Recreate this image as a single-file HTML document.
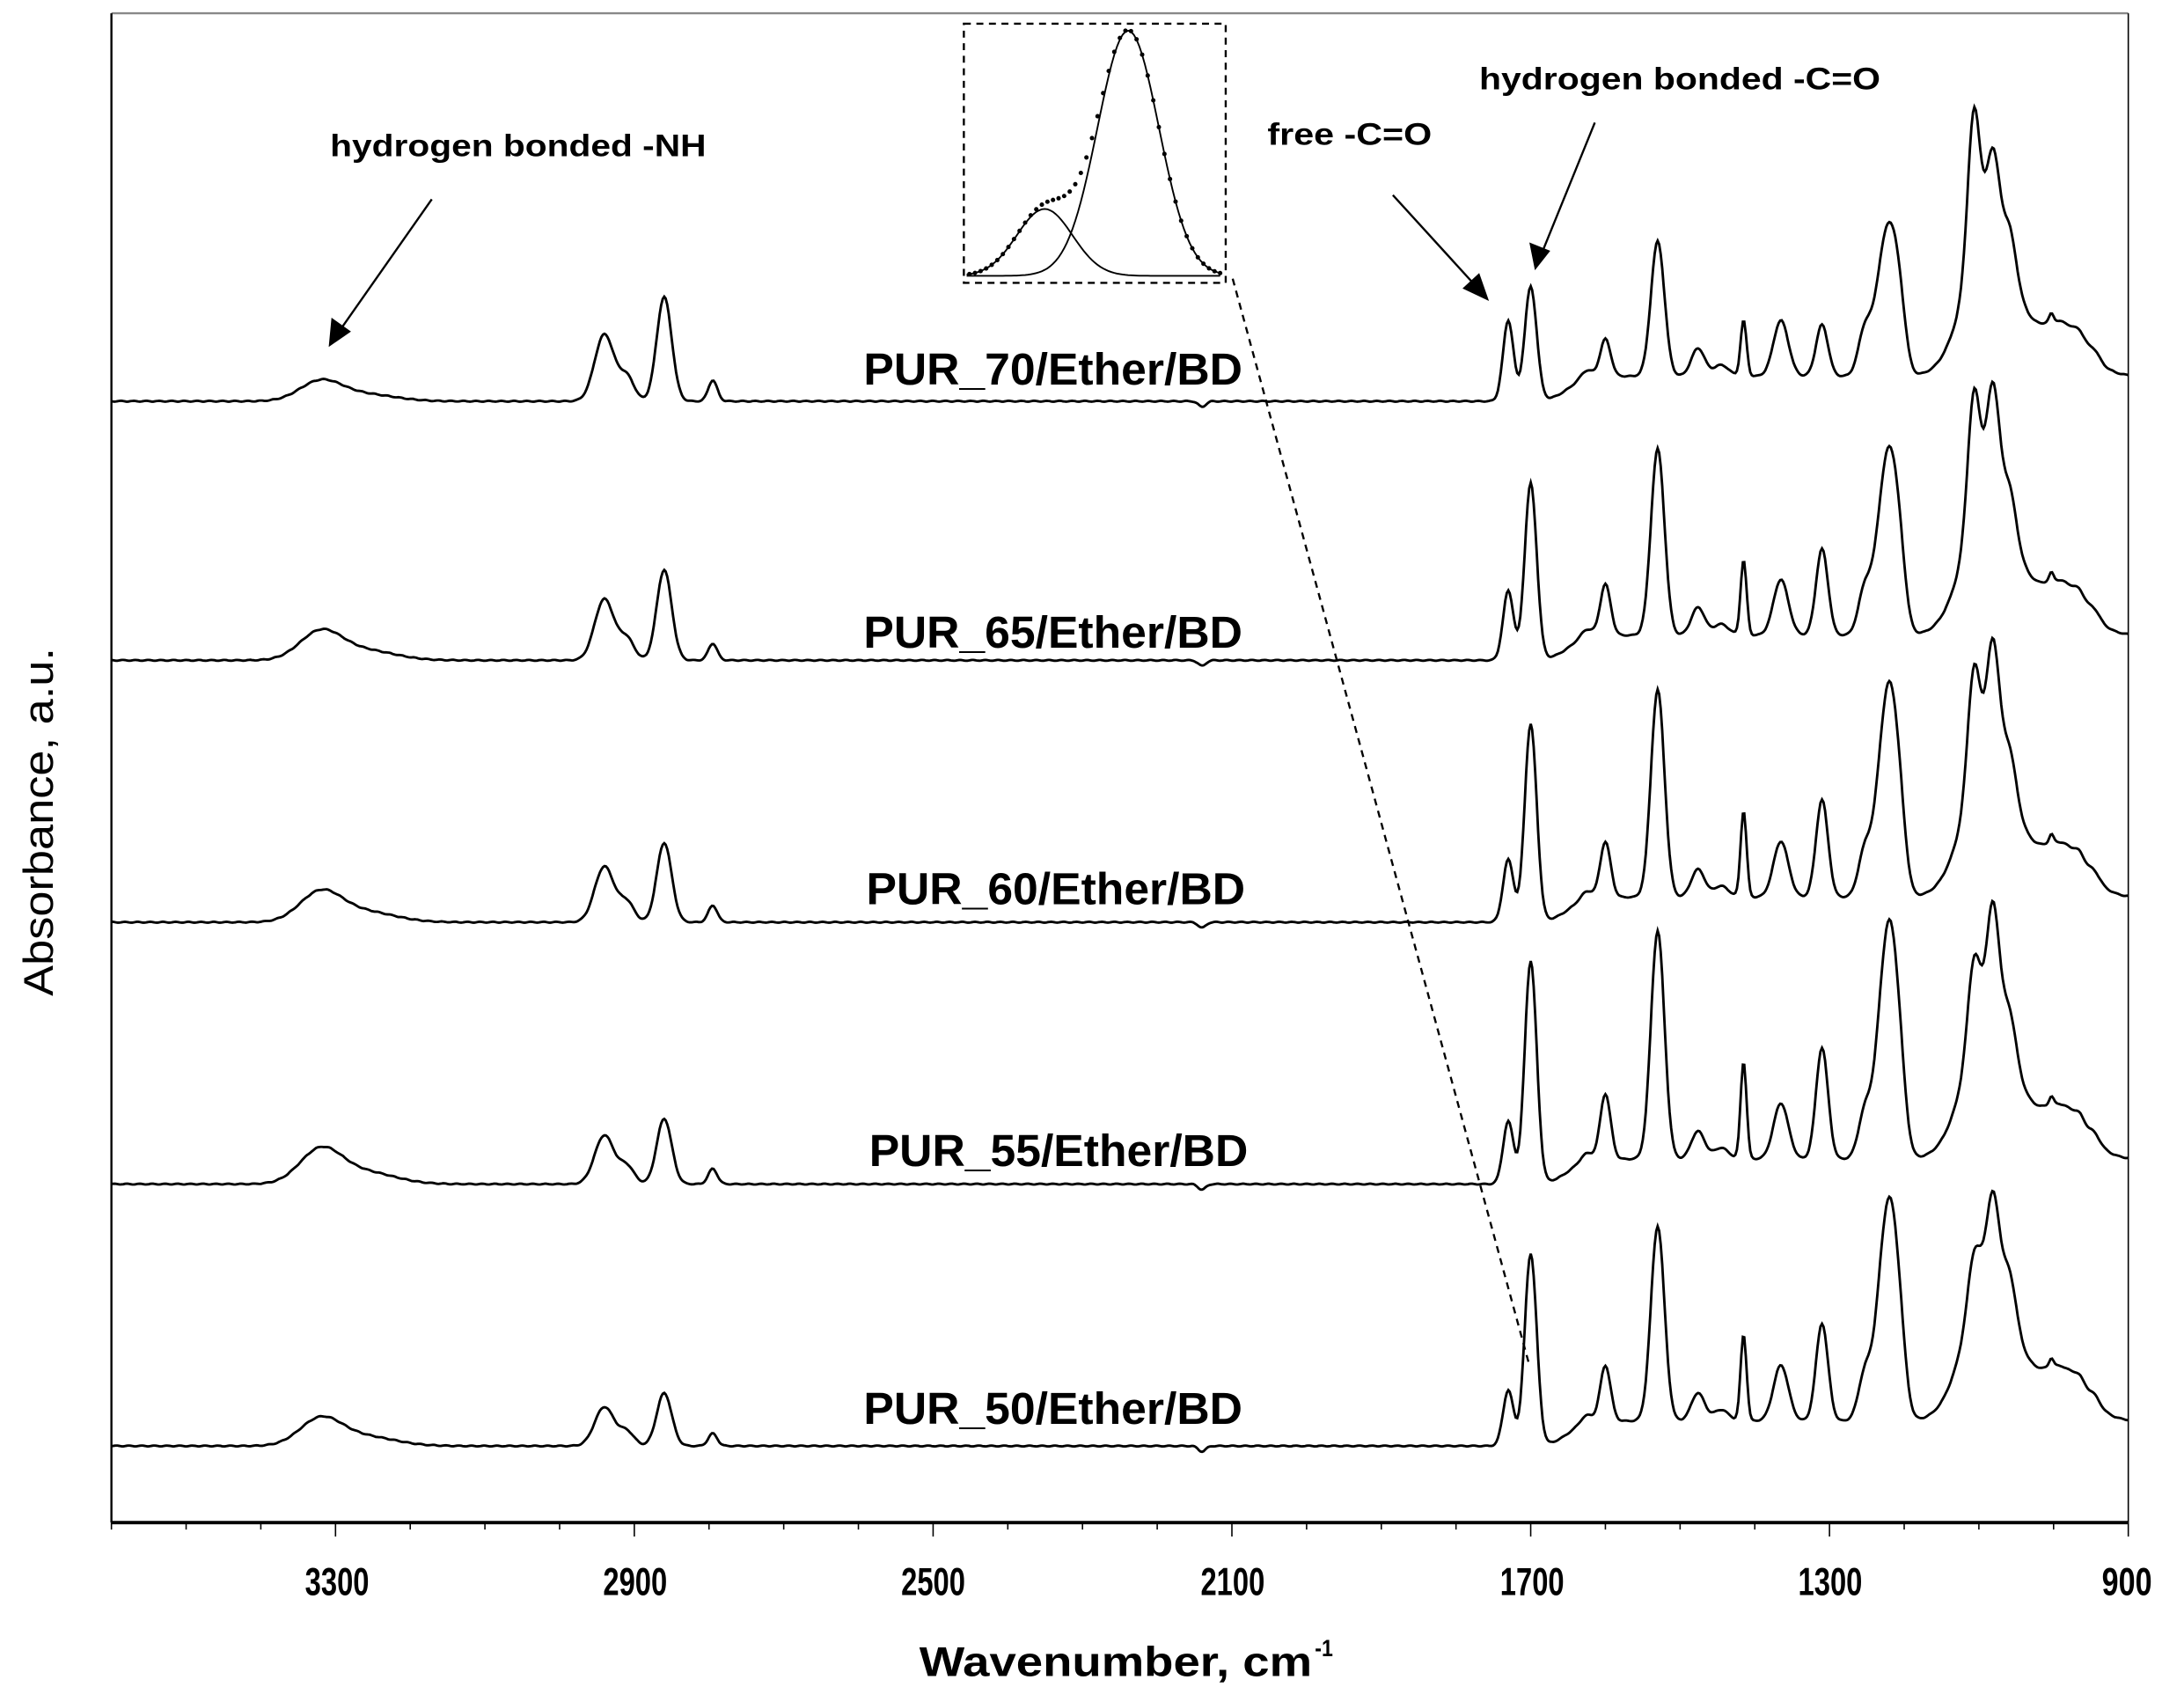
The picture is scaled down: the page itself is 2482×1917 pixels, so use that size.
<!DOCTYPE html>
<html><head><meta charset="utf-8"><style>html,body{margin:0;padding:0;background:#fff}svg{display:block}</style></head>
<body>
<svg id="s" width="2482" height="1917" viewBox="0 0 1568 1211" xmlns="http://www.w3.org/2000/svg" font-family="Liberation Sans, Arial, sans-serif">
<rect x="0" y="0" width="1568" height="1211" fill="#fff"/>
<line x1="80" y1="9.5" x2="1528" y2="9.5" stroke="#888" stroke-width="1.5"/>
<line x1="80" y1="9.5" x2="80" y2="1093" stroke="#000" stroke-width="1.5"/>
<line x1="1528" y1="9.5" x2="1528" y2="1093" stroke="#000" stroke-width="1"/>
<line x1="80" y1="1093" x2="1528" y2="1093" stroke="#000" stroke-width="2.5"/>
<g id="ticks" stroke="#000" stroke-width="1"></g>
<g font-size="28" font-weight="bold" text-anchor="middle" fill="#000">
<text x="242" y="1145" textLength="46" lengthAdjust="spacingAndGlyphs">3300</text><text x="456" y="1145" textLength="46" lengthAdjust="spacingAndGlyphs">2900</text><text x="670" y="1145" textLength="46" lengthAdjust="spacingAndGlyphs">2500</text>
<text x="885" y="1145" textLength="46" lengthAdjust="spacingAndGlyphs">2100</text><text x="1100" y="1145" textLength="46" lengthAdjust="spacingAndGlyphs">1700</text><text x="1314" y="1145" textLength="46" lengthAdjust="spacingAndGlyphs">1300</text><text x="1527" y="1145" textLength="36" lengthAdjust="spacingAndGlyphs">900</text>
</g>
<text x="660" y="1203" font-size="30" font-weight="bold" textLength="282" lengthAdjust="spacingAndGlyphs">Wavenumber, cm</text>
<text x="944" y="1189" font-size="17" font-weight="bold" textLength="13" lengthAdjust="spacingAndGlyphs">-1</text>
<text transform="translate(38,590) rotate(-90)" font-size="30" text-anchor="middle" textLength="250" lengthAdjust="spacingAndGlyphs">Absorbance, a.u.</text>
<g id="spec" fill="none" stroke="#000" stroke-width="1.8"></g>
<g font-size="32" fill="#000" font-weight="bold">
<text x="620" y="276" textLength="272" lengthAdjust="spacingAndGlyphs">PUR_70/Ether/BD</text>
<text x="620" y="465" textLength="272" lengthAdjust="spacingAndGlyphs">PUR_65/Ether/BD</text>
<text x="622" y="649" textLength="272" lengthAdjust="spacingAndGlyphs">PUR_60/Ether/BD</text>
<text x="624" y="837" textLength="272" lengthAdjust="spacingAndGlyphs">PUR_55/Ether/BD</text>
<text x="620" y="1022" textLength="272" lengthAdjust="spacingAndGlyphs">PUR_50/Ether/BD</text>
</g>
<g font-size="22" font-weight="bold" fill="#000">
<text x="237" y="112" textLength="270" lengthAdjust="spacingAndGlyphs">hydrogen bonded -NH</text>
<text x="910" y="104" textLength="118" lengthAdjust="spacingAndGlyphs">free -C=O</text>
<text x="1062" y="64" textLength="288" lengthAdjust="spacingAndGlyphs">hydrogen bonded -C=O</text>
</g>
<g stroke="#000" stroke-width="1.5">
<line x1="310" y1="143" x2="242" y2="240"/>
<line x1="1000" y1="140" x2="1062" y2="208"/>
<line x1="1145" y1="88" x2="1106" y2="184"/>
</g>
<g fill="#000">
<polygon points="236,249 238,228 252,238"/>
<polygon points="1069,216 1050,207 1062,196"/>
<polygon points="1102,194 1098,174 1113,180"/>
</g>
<rect x="692" y="17" width="188" height="186" fill="none" stroke="#000" stroke-width="1.5" stroke-dasharray="5,4"/>
<line x1="885" y1="200" x2="1098" y2="980" stroke="#000" stroke-width="1.5" stroke-dasharray="5,4"/>
<g id="inset" fill="none" stroke="#000" stroke-width="1.2"></g>
</svg>
<script>
var X=function(w){return 80+(3600-w)*1448/2700;};
var t=document.getElementById('ticks'),h='';
for(var w=3600;w>=900;w-=100){var x=X(w);var major=((3700-w)%400===0)&&w<=3300;h+='<line x1="'+x+'" y1="1093" x2="'+x+'" y2="'+(1093+(major?10:5))+'"/>';}
t.innerHTML=h;
function g(w,c,s,a){var d=(w-c)/s;return a*Math.exp(-0.5*d*d);}
var specs=[
 {b:288,nh:14,ch:[48,34,75,15],co:[58,82],p1600:45,p1530:115,p1415:58,p1310:55,p1220:133,t1:197,t2:163},
 {b:474,nh:20,ch:[44,30,65,12],co:[50,127],p1600:55,p1530:152,p1415:72,p1310:80,p1220:158,t1:181,t2:181},
 {b:662,nh:21,ch:[40,28,57,12],co:[45,142],p1600:58,p1530:167,p1415:80,p1310:88,p1220:177,t1:171,t2:185},
 {b:850,nh:24,ch:[35,25,47,11],co:[45,160],p1600:65,p1530:182,p1415:88,p1310:98,p1220:194,t1:150,t2:184},
 {b:1038,nh:19,ch:[28,20,38,9],co:[40,138],p1600:58,p1530:158,p1415:80,p1310:88,p1220:183,t1:127,t2:164}
];
var out='';
specs.forEach(function(s,i){
 var d='';
 var B=110;
 var n1=s.t1-B*0.84, n2=s.t2-B*0.995;
 for(var w=3600;w>=900;w-=2){
  var y=0;
  var off=18/(1+Math.exp((w-1650)/12));
  y+=off;
  y+=g(w,3320,28,s.nh)+g(w,3260,40,s.nh*0.35);
  y+=g(w,2940,13,s.ch[0])+g(w,2910,10,s.ch[1]*0.5)+g(w,2860,10,s.ch[2])+g(w,2795,6,s.ch[3]);
  y+=g(w,1730,7,s.co[0])+g(w,1700,8,s.co[1])-g(w,1700,30,6)*0;
  y+=g(w,1600,7,s.p1600-18)+g(w,1625,8,6)+g(w,1530,9,s.p1530-18);
  y+=g(w,1476,9,20)+g(w,1445,10,8)+g(w,1415,4,s.p1415-18)+g(w,1365,10,40)+g(w,1310,8,s.p1310-18);
  y+=g(w,1252,9,35)+g(w,1235,8,20)+g(w,1220,12,s.p1220-30)+g(w,1205,8,25);
  y+=g(w,1085,32,B)+g(w,1107,8,n1)+g(w,1081,8,n2)+g(w,1058,8,25);
  y+=g(w,990,32,38)+g(w,1003,3,6)+g(w,965,6,5)+g(w,945,7,5);
  y-=g(w,2140,5,4);
  y+=Math.sin(w*0.37+i)*0.3;
  d+=(d?'L':'M')+X(w).toFixed(1)+','+(s.b-y).toFixed(1);
 }
 out+='<path d="'+d+'"/>';
});
document.getElementById('spec').innerHTML=out;
var ins='',p1='',p2='',dots='';
for(var x=694;x<=876;x+=2){
 var a=g(x,810,22,176),b=g(x,750,20,48);
 p1+=(p1?'L':'M')+x+','+(198-a).toFixed(1);
 p2+=(p2?'L':'M')+x+','+(198-b).toFixed(1);
 if(x%4===0) dots+='<circle cx="'+x+'" cy="'+(198-a-b).toFixed(1)+'" r="1.6" fill="#000" stroke="none"/>';
}
ins='<path d="'+p1+'"/><path d="'+p2+'"/>'+dots;
document.getElementById('inset').innerHTML=ins;
</script>
</body></html>
